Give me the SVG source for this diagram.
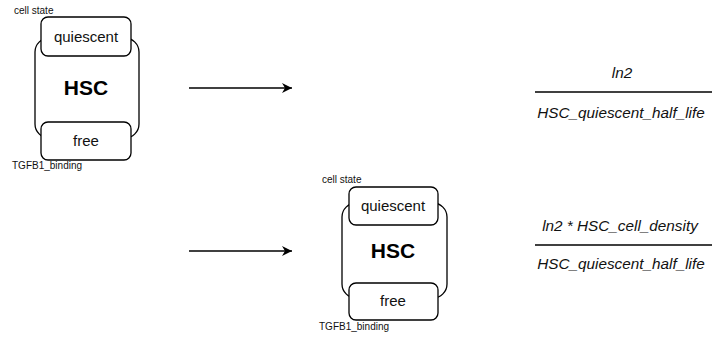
<svg xmlns="http://www.w3.org/2000/svg" width="712" height="337" viewBox="0 0 712 337">
<defs>
<marker id="arr" viewBox="0 0 10 10" refX="10" refY="5" markerWidth="12" markerHeight="10" markerUnits="userSpaceOnUse" orient="auto">
<path d="M0,0 L10,5 L0,10 L3,5 Z" fill="#000"/>
</marker>
</defs>
<style>
.outer{fill:#fff;stroke:#000;stroke-width:1.3}
.box{fill:#fff;stroke:#000;stroke-width:1.3}
.lbl{font-family:"Liberation Sans",Arial,sans-serif;font-size:15px;fill:#111;text-anchor:middle}
.hsc{font-family:"Liberation Sans",Arial,sans-serif;font-size:21px;font-weight:bold;fill:#000;text-anchor:middle}
.small{font-family:"Liberation Sans",Arial,sans-serif;font-size:10px;fill:#111}
.math{font-family:"Liberation Sans",Arial,sans-serif;font-size:15.3px;font-style:italic;fill:#111;text-anchor:middle}
.conn{stroke:#000;stroke-width:1.3;fill:none}
.frac{stroke:#000;stroke-width:1.3}
</style>
<g id="hsc1">
<rect class="outer" x="35" y="38" width="104" height="100" rx="14"/>
<rect class="box" x="41" y="17" width="90" height="39" rx="7"/>
<rect class="box" x="41" y="122" width="90" height="38" rx="7"/>
<text class="small" x="14" y="14">cell state</text>
<text class="lbl" x="86" y="42">quiescent</text>
<text class="hsc" x="86" y="95">HSC</text>
<text class="lbl" x="86" y="146">free</text>
<text class="small" x="12" y="169">TGFB1_binding</text>
</g>
<g id="hsc2">
<rect class="outer" x="342" y="203" width="105" height="95" rx="14"/>
<rect class="box" x="349" y="187" width="89" height="38" rx="7"/>
<rect class="box" x="349" y="283" width="89" height="37" rx="7"/>
<text class="small" x="322" y="183">cell state</text>
<text class="lbl" x="393" y="211">quiescent</text>
<text class="hsc" x="393" y="258">HSC</text>
<text class="lbl" x="393" y="306">free</text>
<text class="small" x="319" y="330">TGFB1_binding</text>
</g>
<g id="rate1">
<text class="math" x="622" y="78">ln2</text>
<line class="frac" x1="535" y1="92" x2="712" y2="92"/>
<text class="math" x="621" y="118">HSC_quiescent_half_life</text>
</g>
<g id="rate2">
<text class="math" x="620" y="231">ln2 * HSC_cell_density</text>
<line class="frac" x1="535" y1="245" x2="712" y2="245"/>
<text class="math" x="621" y="269">HSC_quiescent_half_life</text>
</g>
<g id="connectors">
<line class="conn" x1="189" y1="88" x2="292" y2="88" marker-end="url(#arr)"/>
<line class="conn" x1="189" y1="251" x2="292" y2="251" marker-end="url(#arr)"/>
</g>
</svg>
